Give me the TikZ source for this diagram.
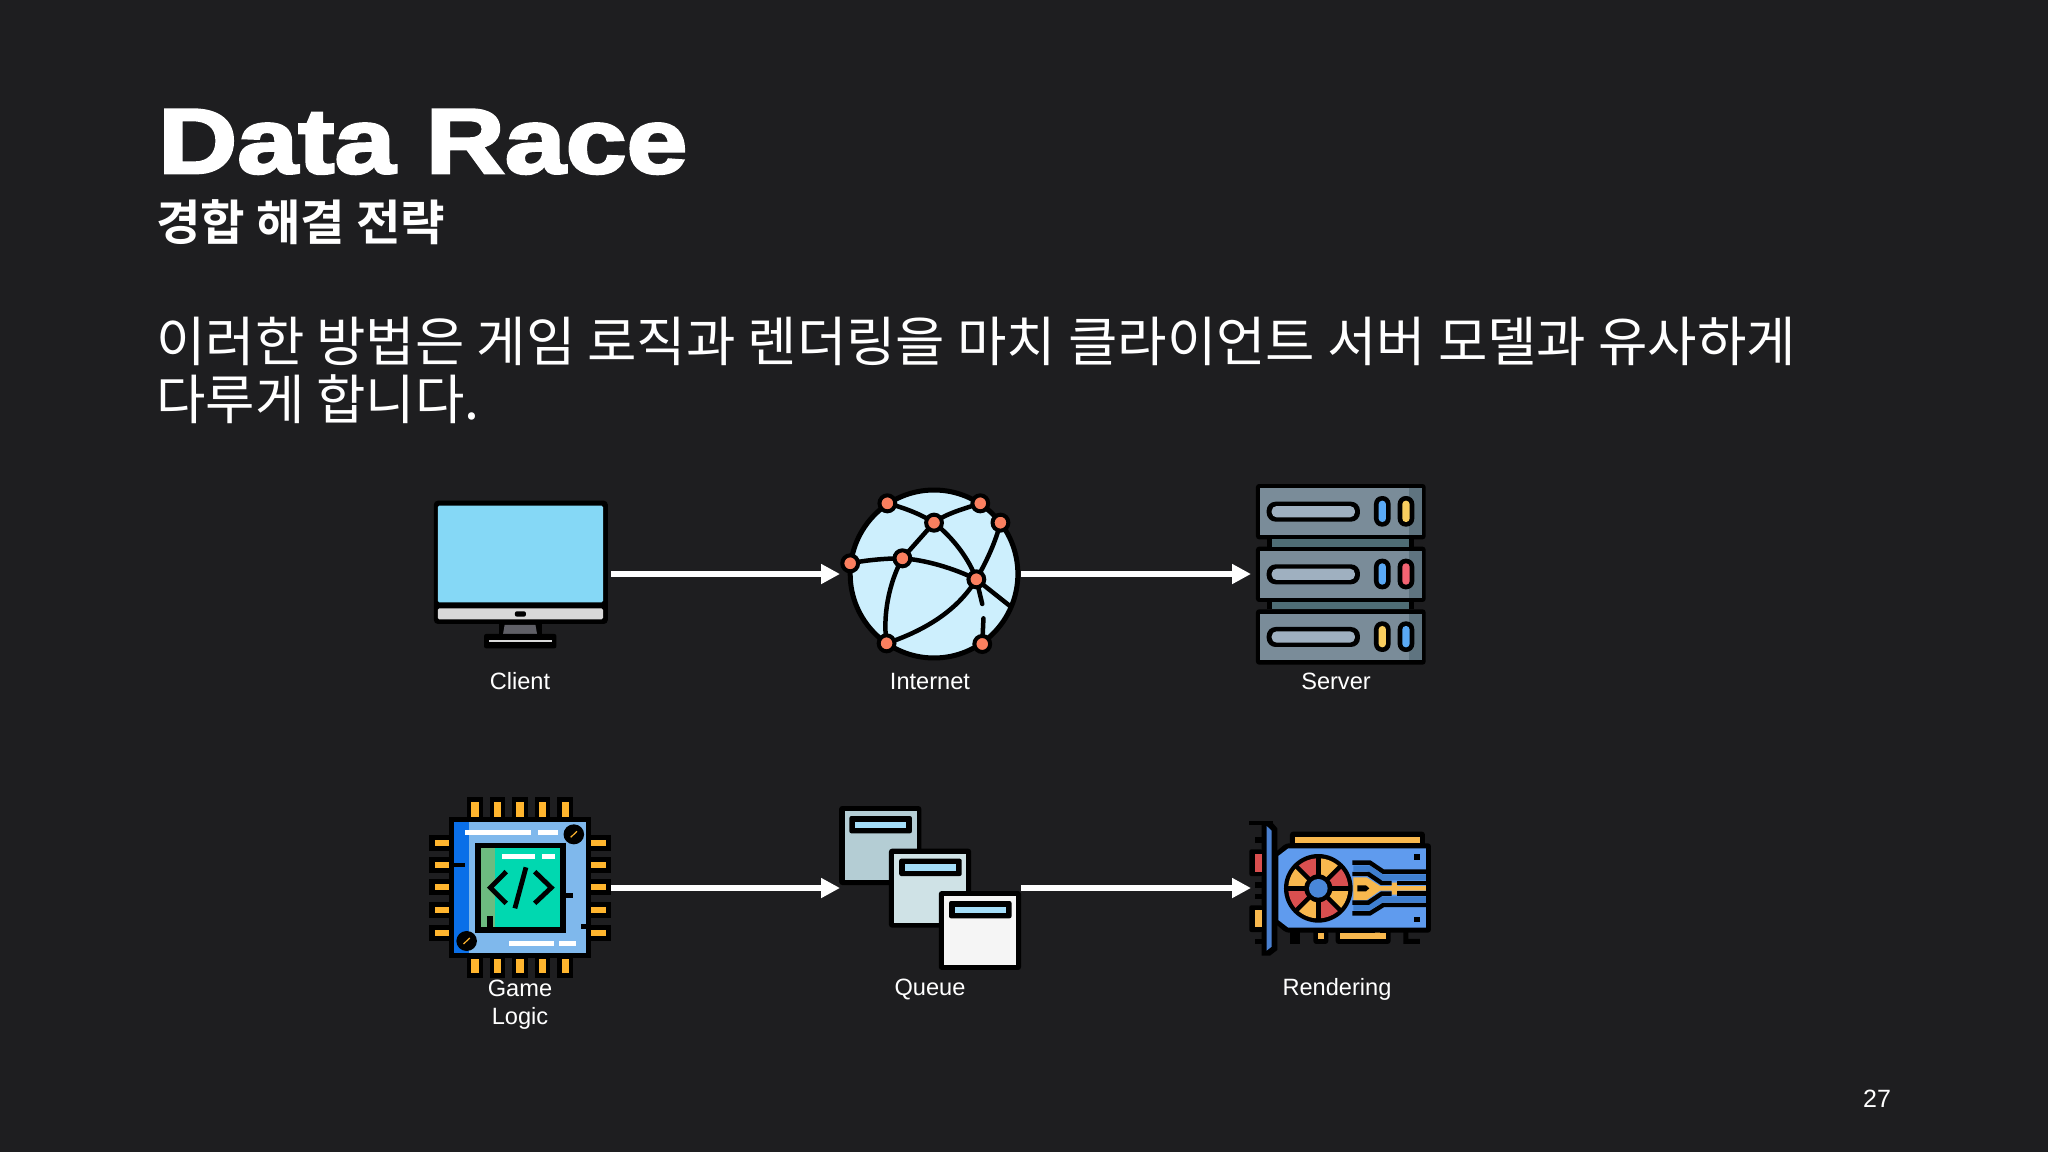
\documentclass[tikz,border=0pt]{standalone}
\usepackage{fontspec}
\usetikzlibrary{arrows.meta}
\setmainfont{Liberation Sans}
\newfontfamily\krfont{Noto Sans CJK KR}
\newfontfamily\krbold{Noto Sans CJK KR Bold}
\newfontfamily\titlefont[FakeStretch=1.19,FakeBold=3]{Liberation Sans Bold}
\definecolor{bgc}{HTML}{1E1E20}
\definecolor{scr}{HTML}{85D8F6}
\definecolor{nodeorange}{HTML}{FA7F5F}
\definecolor{globec}{HTML}{CDEFFD}
\definecolor{srv}{HTML}{7A8C99}
\definecolor{srvd}{HTML}{5F7480}
\definecolor{srvc}{HTML}{4F6D75}
\definecolor{srvb}{HTML}{9FB0C0}
\definecolor{ledb}{HTML}{5AA9F5}
\definecolor{ledy}{HTML}{F9CE5F}
\definecolor{ledr}{HTML}{F46372}
\definecolor{chipgold}{HTML}{FFB52E}
\definecolor{chipb}{HTML}{7FB8EC}
\definecolor{chipd}{HTML}{0A6FE8}
\definecolor{chipt}{HTML}{00D8B0}
\definecolor{chipg}{HTML}{6DBB80}
\definecolor{cardbar}{HTML}{A4DDF8}
\definecolor{silver}{HTML}{D9D9D9}
\definecolor{stand}{HTML}{5F5F66}
\definecolor{gred}{HTML}{D94F4F}
\definecolor{gyel}{HTML}{F8B84E}
\definecolor{gblu}{HTML}{5F9BEE}
\definecolor{gdbl}{HTML}{3F7FD0}
\definecolor{gbrk}{HTML}{4A80D0}
\tikzset{
  anchorbox/.style={inner sep=0pt,outer sep=0pt,minimum height=20pt,text width=0pt},
  flow/.style={draw=white,line width=5.5pt,-{Triangle[length=19pt,width=19pt]}},
  lbl/.style={text=white,font=\fontsize{23.6}{24}\selectfont,inner sep=0pt,anchor=center},
  zoomwide/.style={shift={(#1)},x=0.3954pt,y=-0.3333pt},
  zoomeven/.style={shift={(#1)},x=0.3333pt,y=-0.3333pt},
  wire/.style={black,line width=4.5pt,line cap=round},
  trace/.style={black,line width=4.4pt}
}
\begin{document}
\begin{tikzpicture}[x=1pt,y=-1pt]
\fill[bgc] (0,0) rectangle (2048,1152);
\useasboundingbox (0,0) rectangle (2048,1152);

% title text
\node[anchor=base west,inner sep=0pt,text=white,font=\titlefont\fontsize{92}{92}\selectfont] (title) at (158,173) {Data Race};
\node[anchor=base west,inner sep=0pt,text=white,font=\krbold\fontsize{48.4}{48}\selectfont] (sub) at (156,240) {경합 해결 전략};
\node[anchor=base west,inner sep=0pt,text=white,font=\krfont\fontsize{53.7}{55}\selectfont] (line1) at (156,361) {이러한 방법은 게임 로직과 렌더링을 마치 클라이언트 서버 모델과 유사하게};
\node[anchor=base west,inner sep=0pt,text=white,font=\krfont\fontsize{53.7}{55}\selectfont] (line2) at (156,419) {다루게 합니다.};
\node[lbl,font=\fontsize{25}{25}\selectfont] (page) at (1877,1099) {27};

% client
\begin{scope}[zoomwide={420,470}]
\fill[black,rounded corners=4pt] (35,92) rectangle (475,462);
\fill[scr,rounded corners=1.5pt] (45,107) rectangle (463,397);
\fill[silver,rounded corners=1.5pt] (45,415) rectangle (463,448);
\fill[black,rounded corners=2pt] (240,424) rectangle (268,440);
\fill[black] (200,460) rectangle (308,495);
\fill[stand] (214,465) -- (292,465) -- (296,492) -- (210,492) -- cycle;
\fill[black,rounded corners=2pt] (162,492) rectangle (345,535);
\fill[silver] (175,509) rectangle (333,517);
\end{scope}

% internet
\begin{scope}[zoomwide={420,470}]
\draw[black,fill=globec,line width=5pt] (1300,312) circle [x radius=212,y radius=252];
\coordinate (gA) at (1182,100); \coordinate (gB) at (1417,100);
\coordinate (gC) at (1300,158); \coordinate (gD) at (1468,158);
\coordinate (gE) at (1088,280); \coordinate (gF) at (1220,265);
\coordinate (gG) at (1407,328); \coordinate (gH) at (1180,520);
\coordinate (gI) at (1422,522);
\draw[wire] (gA) .. controls (1230,115) and (1270,135) .. (gC);
\draw[wire] (gC) .. controls (1330,130) and (1380,115) .. (gB);
\draw[wire] (gC) -- (gF);
\draw[wire] (gE) .. controls (1130,270) and (1180,265) .. (gF);
\draw[wire] (gF) .. controls (1280,270) and (1350,295) .. (gG);
\draw[wire] (gC) .. controls (1350,205) and (1390,270) .. (gG);
\draw[wire] (gG) .. controls (1430,280) and (1455,220) .. (gD);
\draw[wire] (gF) .. controls (1185,340) and (1170,440) .. (gH);
\draw[wire] (gH) .. controls (1280,480) and (1360,420) .. (gG);
\draw[wire] (gG) -- (1492,408);
\draw[wire] (gG) -- (1422,402);
\draw[wire] (1425,445) -- (gI);
\foreach \p in {gA,gB,gC,gD,gE,gF,gG,gH,gI}
  \fill[nodeorange,draw=black,line width=4pt] (\p) circle [x radius=20,y radius=24];
\end{scope}

% server
\begin{scope}[zoomeven={1040,470}]
\foreach \r/\ca/\cb in {0/ledb/ledy,188/ledb/ledr,376/ledy/ledb}{
  \begin{scope}[yshift=-\r*0.3333pt]
  \fill[black,rounded corners=3pt] (648,42) rectangle (1157,208);
  \fill[srv] (661,55) rectangle (1145,195);
  \fill[srvd] (1108,55) rectangle (1145,195);
  \fill[black,rounded corners=9pt] (680,95) rectangle (960,155);
  \fill[srvb,rounded corners=5pt] (695,108) rectangle (945,142);
  \fill[black,rounded corners=8pt] (1002,78) rectangle (1052,170);
  \fill[\ca,rounded corners=3.5pt] (1016,92) rectangle (1038,156);
  \fill[black,rounded corners=8pt] (1073,78) rectangle (1123,170);
  \fill[\cb,rounded corners=3.5pt] (1087,92) rectangle (1109,156);
  \end{scope}
}
\foreach \r in {0,188}{
  \begin{scope}[yshift=-\r*0.3333pt]
  \fill[black] (680,208) rectangle (1123,230);
  \fill[srvc] (695,208) rectangle (1108,230);
  \end{scope}
}
\end{scope}

% chip
\begin{scope}[zoomwide={420,790}]
\foreach \x in {139,196,253,310,367}{
  \fill[black] (\x-20,22) rectangle (\x+20,82);
  \fill[chipgold] (\x-9,37) rectangle (\x+9,80);
  \fill[black] (\x-20,505) rectangle (\x+20,565);
  \fill[chipgold] (\x-9,507) rectangle (\x+9,550);
}
\foreach \y in {158,225,292,360,428}{
  \fill[black] (24,\y-24) rectangle (75,\y+24);
  \fill[chipgold] (37,\y-9) rectangle (73,\y+9);
  \fill[black] (431,\y-24) rectangle (483,\y+24);
  \fill[chipgold] (433,\y-9) rectangle (470,\y+9);
}
\fill[black] (73,82) rectangle (433,505);
\fill[chipb] (87,96) rectangle (421,490);
\fill[chipd] (87,96) rectangle (123,490);
\fill[white] (115,120) rectangle (280,136);
\fill[white] (298,120) rectangle (350,136);
\fill[white] (225,453) rectangle (338,468);
\fill[white] (352,453) rectangle (395,468);
\fill[black] (140,158) rectangle (368,428);
\fill[chipt] (154,175) rectangle (355,412);
\fill[chipg] (154,175) rectangle (190,412);
\fill[white] (207,191) rectangle (292,207);
\fill[white] (309,191) rectangle (341,207);
\draw[black,line width=4.8pt] (218,245) -- (178,293) -- (218,340);
\draw[black,line width=4.8pt] (268,232) -- (240,355);
\draw[black,line width=4.8pt] (290,245) -- (332,293) -- (290,340);
\fill[black] (87,218) rectangle (115,232);
\fill[black] (355,310) rectangle (388,324);
\fill[black] (407,402) rectangle (421,416);
\fill[black] (170,378) rectangle (185,412);
\fill[black] (389,133) circle [x radius=26,y radius=30];
\draw[chipgold,line width=1.2pt] (381,142) -- (397,124);
\fill[black] (118,453) circle [x radius=26,y radius=30];
\draw[chipgold,line width=1.2pt] (110,462) -- (126,444);
\end{scope}

% queue
\begin{scope}[zoomwide={420,790}]
\foreach \ox/\oy/\col in {0/0/B4CDD4,126/128/CFE2E6,252/255/F5F5F5}{
  \definecolor{cardc}{HTML}{\col}
  \begin{scope}[xshift=\ox*0.3954pt,yshift=-\oy*0.3333pt]
  \fill[black,rounded corners=3pt] (1060,48) rectangle (1268,285);
  \fill[cardc] (1074,63) rectangle (1256,270);
  \fill[black,rounded corners=2pt] (1086,78) rectangle (1244,130);
  \fill[cardbar] (1100,95) rectangle (1230,115);
  \end{scope}
}
\end{scope}

% graphics card
\begin{scope}[zoomeven={1040,790}]
\fill[black] (628,92) rectangle (700,105);
\fill[black] (665,95) -- (695,95) -- (712,115) -- (712,480) -- (690,497) -- (665,497) -- cycle;
\fill[gbrk] (680,108) -- (695,122) -- (695,470) -- (680,482) -- cycle;
\fill[black,rounded corners=2pt] (628,178) rectangle (668,258);
\fill[gred] (645,192) rectangle (665,245);
\fill[black,rounded corners=2pt] (628,346) rectangle (668,426);
\fill[gyel] (645,360) rectangle (665,412);
\foreach \y in {150,285,320,455} \fill[black] (645,\y-8) rectangle (668,\y+8);
\fill[black,rounded corners=3pt] (750,125) rectangle (1155,175);
\fill[gyel] (765,141) rectangle (1140,158);
\fill[black] (750,413) rectangle (780,462);
\fill[black,rounded corners=3pt] (820,413) rectangle (865,462);
\fill[gyel] (833,430) rectangle (852,447);
\fill[black,rounded corners=3pt] (887,413) rectangle (1052,462);
\fill[gyel] (900,430) rectangle (1038,447);
\fill[gyel] (1005,413) rectangle (1020,432);
\fill[black] (1090,413) rectangle (1105,462) (1090,447) rectangle (1140,462);
\fill[black,rounded corners=3pt] (738,160) -- (1173,160) -- (1173,428) -- (738,428) -- (702,398) -- (702,190) -- cycle;
\fill[gblu] (745,175) -- (1158,175) -- (1158,413) -- (745,413) -- (715,390) -- (715,198) -- cycle;
\fill[black] (1123,192) rectangle (1141,209);
\fill[black] (1123,380) rectangle (1141,397);
\fill[gdbl] (940,226) -- (988,226) -- (1028,253) -- (1158,253) -- (1158,271) -- (1022,271) -- (982,244) -- (940,244) -- cycle;
\fill[gdbl] (940,344) -- (982,344) -- (1022,319) -- (1158,319) -- (1158,337) -- (1028,337) -- (988,362) -- (940,362) -- cycle;
\fill[gyel] (940,262) -- (980,262) -- (1020,288) -- (1055,288) -- (1055,278) -- (1072,278) -- (1072,288) -- (1158,288) -- (1158,302) -- (1072,302) -- (1072,314) -- (1055,314) -- (1055,302) -- (1020,302) -- (980,330) -- (940,330) -- cycle;
\draw[trace] (937,218) -- (990,218) -- (1030,245) -- (1158,245);
\draw[trace] (937,370) -- (990,370) -- (1030,345) -- (1158,345);
\draw[trace] (937,252) -- (985,252) -- (1025,279) -- (1055,279);
\draw[trace] (1072,279) -- (1158,279);
\draw[trace] (937,338) -- (985,338) -- (1025,311) -- (1055,311);
\draw[trace] (1072,311) -- (1158,311);
\fill[black] (952,286) -- (978,286) -- (988,295) -- (978,304) -- (952,304) -- cycle;
\coordinate (fan) at (835,295);
\fill[black] (fan) circle [radius=103];
\foreach \a/\c in {0/gyel,45/gred,90/gyel,135/gred,180/gyel,225/gred,270/gyel,315/gred}{
  \fill[\c] (fan) -- +(\a:90) arc [start angle=\a,delta angle=45,radius=90] -- cycle;
}
\foreach \a in {0,45,...,315}
  \draw[black,line width=4.4pt] (fan) -- +(\a:92);
\fill[black] (fan) circle [radius=42];
\fill[gdbl!70!gblu] (fan) circle [radius=28];
\end{scope}

% connector ends
\path node[anchorbox,minimum width=178pt] (client) at (522,574) {}
      node[anchorbox,minimum width=181pt] (internet) at (930.5,574) {}
      node[anchorbox,minimum width=173pt] (server) at (1337.5,574) {}
      node[anchorbox,minimum width=179pt] (logic) at (521.5,888) {}
      node[anchorbox,minimum width=181pt] (queue) at (930.5,888) {}
      node[anchorbox,minimum width=177pt] (render) at (1339.5,888) {};
\draw[flow] (client.east) -- (internet.west);
\draw[flow] (internet.east) -- (server.west);
\draw[flow] (logic.east) -- (queue.west);
\draw[flow] (queue.east) -- (render.west);

% labels
\node[lbl] (lclient) at (520,681) {Client};
\node[lbl] (linternet) at (930,681) {Internet};
\node[lbl] (lserver) at (1336,681) {Server};
\node[lbl] (lgame) at (520,988) {Game};
\node[lbl] (llogic) at (520,1018) {Logic};
\node[lbl] (lqueue) at (930,989) {Queue};
\node[lbl] (lrender) at (1337,989) {Rendering};
\end{tikzpicture}
\end{document}
